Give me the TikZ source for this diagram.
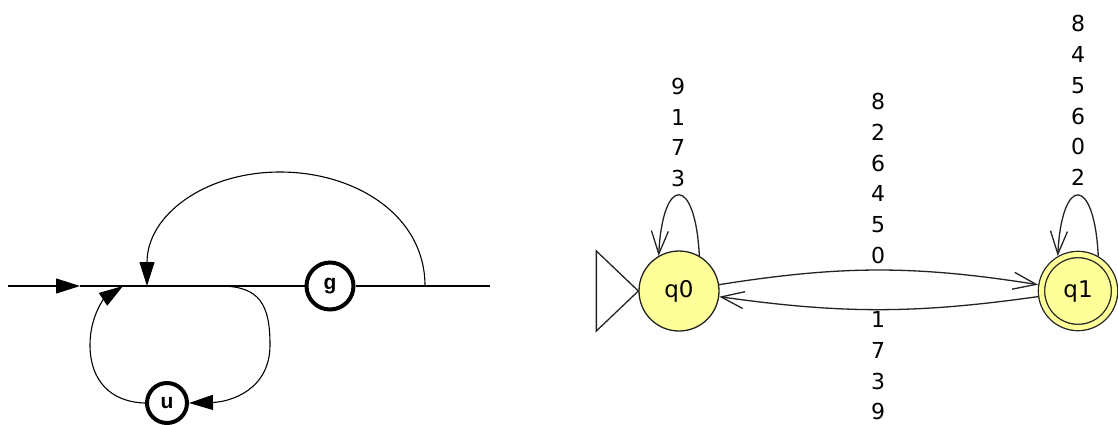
\documentclass[tikz,border=0pt]{standalone}
\usepackage{fontspec}
\setmainfont{DejaVu Sans}
\newfontfamily\grubyfont{Liberation Sans}
\usetikzlibrary{arrows.meta}
\definecolor{zolty}{RGB}{255,255,153}
\definecolor{ramka}{RGB}{35,35,35}
\tikzset{
  wezel/.style={circle, draw, line width=4pt, fill=white, inner sep=0pt, font=\grubyfont\bfseries\fontsize{21}{21}\selectfont},
  strz/.style={-{Triangle[length=24pt,width=15pt]}},
  stan/.style={circle, draw=ramka, line width=1.3pt, fill=zolty, minimum size=80pt, inner sep=0pt, font=\fontsize{23}{23}\selectfont},
  akcept/.style={stan, double=zolty, double distance=5pt, minimum size=73pt, outer sep=4pt},
  przejscie/.style={draw=ramka, line width=1.3pt, -{Straight Barb[length=23pt,width=17pt,line width=1.3pt]}},
  etykieta/.style={align=center, inner sep=0pt, font=\fontsize{22}{30.7}\selectfont},
}
\begin{document}
\begin{tikzpicture}[x=1pt,y=-1pt]
        \useasboundingbox (0,0) rectangle (1118,424);
        % lewy graf: linia glowna
        \node[wezel, minimum size=47pt] (g) at (330,286) {g};
        \node[wezel, minimum size=40pt] (u) at (167,403) {u};
        \coordinate (we) at (8,286);
        \coordinate (wy) at (490,286);
        \coordinate (s1) at (80,286);
        \coordinate (p1) at (147,286);
        \coordinate (p2) at (123,286);
        \coordinate (p3) at (220,286);
        \coordinate (p4) at (425,286);
        \draw[line width=1.1pt, strz] (we) -- (s1);
        \draw[line width=1.1pt] (s1) -- (g);
        \draw[line width=1.1pt] (g) -- (wy);
        % luk gorny (powrot)
        \draw[line width=1.1pt, strz] (p4) .. controls (425,215) and (355,172) .. (280,172)
            .. controls (205,172) and (147,215) .. (p1);
        % petla dolna przez u
        \draw[line width=1.1pt, strz] (p3) .. controls (260,286) and (270,305) .. (270,345)
            .. controls (270,390) and (230,402) .. (u.east);
        \draw[line width=1.1pt, strz] (u.west) .. controls (110,402) and (90,380) .. (90,345)
            .. controls (90,315) and (105,298) .. (p2);
        % prawy graf: automat
        \node[stan] (q0) at (679,291) {q0};
        \node[akcept] (q1) at (1078,291) {q1};
        % stan poczatkowy
        \draw[draw=ramka, line width=1.3pt] (q0.west) -- ++(-42,-40) -- ++(0,80) -- cycle;
        % przejscia
        \draw[przejscie] (q0) to[bend left=9] (q1);
        \draw[przejscie] (q1) to[bend left=8] (q0);
        \draw[przejscie] (q0.60) .. controls +(-4,-81) and +(4,-81) .. (q0.120);
        \draw[przejscie] (q1.60) .. controls +(-4,-81) and +(4,-81) .. (q1.120);
        % etykiety przejsc
        \node[etykieta] (e00) at (678,132.5) {9\\1\\7\\3};
        \node[etykieta] (e11) at (1078,100.5) {8\\4\\5\\6\\0\\2};
        \node[etykieta] (e01) at (878,178.5) {8\\2\\6\\4\\5\\0};
        \node[etykieta] (e10) at (878,366) {1\\7\\3\\9};
\end{tikzpicture}
\end{document}
